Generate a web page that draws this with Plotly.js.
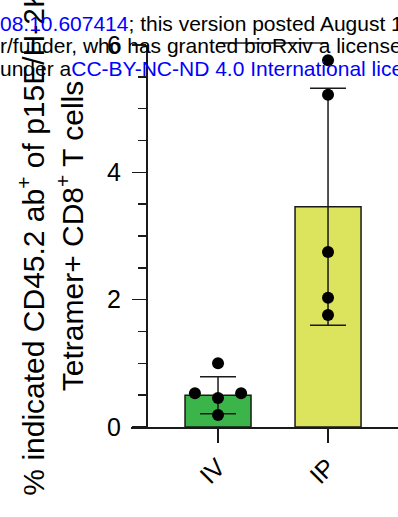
<!DOCTYPE html>
<html>
<head>
<meta charset="utf-8">
<script src="https://cdn.plot.ly/plotly-3.0.1.min.js"></script>
<style>html,body{margin:0;padding:0;background:#fff;}#chart{width:398px;height:517px;}</style>
</head>
<body>
<div id="chart"></div>
<script>
// ---- data ----
const categories = ['IV', 'IP'];
const barMeans = [0.50, 3.46];
const barSD = [0.29, 1.86];
const ivPoints = [1.00, 0.53, 0.53, 0.455, 0.19];
const ipPoints = [5.76, 5.22, 2.75, 2.03, 1.76];
const yTickVals = [0, 2, 4, 6];
const sigLabel = '**';
const sigY = 6.03;
const yTitleLine1 = '% indicated CD45.2 ab<sup>+</sup> of p15E/H-2K<sup>b</sup>';
const yTitleLine2 = 'Tetramer+ CD8<sup>+</sup> T cells';
const wm1 = '<span style="color:#0000ff">08.10.607414</span>; this version posted August 12, 2024. The copyright holder';
const wm2 = 'r/funder, who has granted bioRxiv a license to display the preprint in perpetuity.';
const wm3 = 'under a<span style="color:#0000ff">CC-BY-NC-ND 4.0 International license</span>.';

// ---- layout geometry ----
const W = 398, H = 517;
const M = {l: 131, r: 0, t: 45, b: 90};
const PW = W - M.l - M.r, PH = H - M.t - M.b;
const yRange = [0, 6];
const xRange = [-0.791, 1.636];
const px2paperX = px => (px - M.l) / PW;
const px2paperY = py => (H - M.b - py) / PH;
const FONT = 'Liberation Sans, Arial, sans-serif';
const INK = '#1a1a1a';

// simple beeswarm offsets for points that would overlap
function swarm(vals, center) {
  const thr = 0.12, step = 0.21;
  const idx = vals.map((v, i) => i).sort((a, b) => vals[a] - vals[b]);
  const xs = new Array(vals.length).fill(center);
  let g = [];
  const flush = () => {
    if (g.length > 1) {
      const offs = [0];
      for (let k = 1; k < g.length; k++) offs.push((k % 2 ? -1 : 1) * Math.ceil(k / 2) * step);
      g.forEach((ii, k) => xs[ii] = center + offs[k]);
    }
    g = [];
  };
  idx.forEach(i => {
    if (g.length && vals[i] - vals[g[0]] > thr) flush();
    g.push(i);
  });
  flush();
  return xs;
}

const ivX = swarm(ivPoints, 0);
const ipX = swarm(ipPoints, 1);

const traces = [
  {
    type: 'bar', x: [0, 1], y: barMeans, width: 0.6,
    marker: {color: ['#3bb54a', '#dce35c'], line: {color: INK, width: 1.5}},
    error_y: {type: 'data', array: barSD, visible: true, color: INK, thickness: 1.5, width: 18},
    hoverinfo: 'skip', cliponaxis: false
  },
  {
    type: 'scatter', mode: 'markers',
    x: ivX.concat(ipX), y: ivPoints.concat(ipPoints),
    marker: {color: '#000', size: 12}, cliponaxis: false, hoverinfo: 'skip'
  }
];

const wmFont = {family: FONT, size: 21, color: '#000'};
const layout = {
  width: W, height: H, margin: M,
  paper_bgcolor: '#fff', plot_bgcolor: '#fff',
  showlegend: false,
  font: {family: FONT, color: '#000'},
  xaxis: {
    range: xRange, tickmode: 'array', tickvals: [0, 1], ticktext: categories,
    showline: true, linecolor: INK, linewidth: 1.5,
    ticks: 'outside', ticklen: 14, tickwidth: 1.5, tickcolor: INK,
    tickangle: -45, tickfont: {family: FONT, size: 25, color: '#000'},
    showgrid: false, zeroline: false, fixedrange: true
  },
  yaxis: {
    range: yRange, anchor: 'free', position: px2paperX(146),
    tickmode: 'array', tickvals: yTickVals,
    showline: true, linecolor: INK, linewidth: 1.5,
    ticks: 'outside', ticklen: 14, tickwidth: 1.5, tickcolor: INK,
    minor: {tickmode: 'linear', tick0: 0, dtick: 0.5, ticks: 'outside', ticklen: 8, tickwidth: 1.5, tickcolor: INK, showgrid: false},
    tickfont: {family: FONT, size: 25, color: '#000'},
    ticklabelstandoff: 6,
    showgrid: false, zeroline: false, fixedrange: true,
    title: {text: yTitleLine1 + '<br>' + yTitleLine2, font: {family: FONT, size: 30, color: '#000'}, standoff: 13}
  },
  shapes: [
    {type: 'line', xref: 'x', yref: 'paper', x0: 0, x1: 1,
     y0: (sigY - yRange[0]) / (yRange[1] - yRange[0]), y1: (sigY - yRange[0]) / (yRange[1] - yRange[0]),
     line: {color: INK, width: 1.5}}
  ],
  annotations: [
    {xref: 'x', yref: 'y', x: 0.5, y: sigY, text: sigLabel, showarrow: false,
     yanchor: 'bottom', font: {family: FONT, size: 22, color: '#000'}, yshift: -5},
    {xref: 'paper', yref: 'paper', x: px2paperX(-2), y: px2paperY(23.5), xanchor: 'left', yanchor: 'middle',
     text: wm1, showarrow: false, font: wmFont},
    {xref: 'paper', yref: 'paper', x: px2paperX(-2), y: px2paperY(46), xanchor: 'left', yanchor: 'middle',
     text: wm2, showarrow: false, font: wmFont},
    {xref: 'paper', yref: 'paper', x: px2paperX(-2), y: px2paperY(68.5), xanchor: 'left', yanchor: 'middle',
     text: wm3, showarrow: false, font: wmFont}
  ]
};

Plotly.newPlot('chart', traces, layout, {staticPlot: true, displayModeBar: false});
</script>
</body>
</html>
